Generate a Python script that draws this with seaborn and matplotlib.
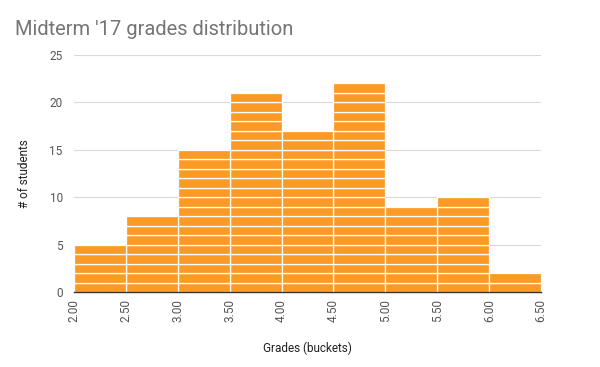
import numpy as np
import pandas as pd
import matplotlib
matplotlib.use("Agg")
import matplotlib.pyplot as plt
import seaborn as sns

# --- data ---
BIN_EDGES = [2.0, 2.5, 3.0, 3.5, 4.0, 4.5, 5.0, 5.5, 6.0, 6.5]
COUNTS = [5, 8, 15, 21, 17, 22, 9, 10, 2]
Y_TICKS = [0, 5, 10, 15, 20, 25]

BAR_COLOR = "#FB9B26"

# one row per student, "unit" numbers each student within its bucket so the
# stacked histogram draws one block per student (white separators)
rows = []
for i, n in enumerate(COUNTS):
    mid = (BIN_EDGES[i] + BIN_EDGES[i + 1]) / 2
    for k in range(n):
        rows.append({"grade": mid, "unit": k})
df = pd.DataFrame(rows)

sns.set_theme(style="white")
plt.rcParams["font.family"] = ["Roboto", "DejaVu Sans"]

fig = plt.figure(figsize=(6, 3.67), dpi=100)
ax = fig.add_axes([0.123, 0.204, 0.779, 0.646])

n_units = max(COUNTS)
sns.histplot(data=df, x="grade", hue="unit", multiple="stack", bins=BIN_EDGES,
             palette=[BAR_COLOR] * n_units, alpha=1, edgecolor="white",
             linewidth=0.9, legend=False, ax=ax)

ax.set_xlim(BIN_EDGES[0], BIN_EDGES[-1])
ax.set_ylim(0, 25)
ax.set_yticks(Y_TICKS)
ax.set_xticks(BIN_EDGES)
ax.set_xticklabels([f"{v:.2f}" for v in BIN_EDGES], rotation=90)
ax.tick_params(axis="both", length=0, labelsize=8.5, colors="#555555")
ax.tick_params(axis="y", pad=8)
ax.tick_params(axis="x", pad=5)

ax.yaxis.grid(True, color="#d9d9d9", linewidth=0.8)
ax.set_axisbelow(True)
for s in ["top", "right", "left"]:
    ax.spines[s].set_visible(False)
ax.spines["bottom"].set_color("#333333")
ax.spines["bottom"].set_linewidth(1.0)

ax.set_xlabel("Grades (buckets)", fontsize=8.5, color="#222222", labelpad=14)
ax.set_ylabel("# of students", fontsize=8.5, color="#222222", labelpad=13)

fig.text(0.025, 0.905, "Midterm '17 grades distribution", fontsize=14.5,
         color="#757575", ha="left", va="baseline")

fig.savefig("out.png", dpi=100)
